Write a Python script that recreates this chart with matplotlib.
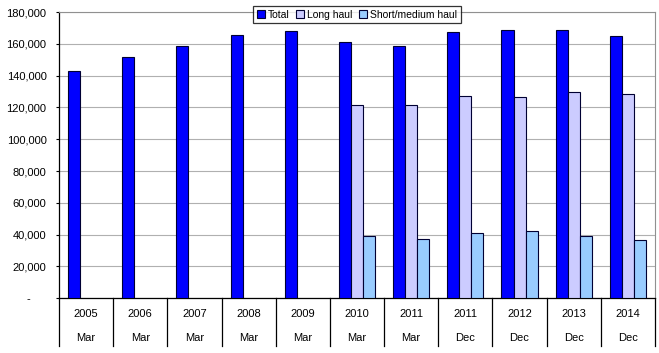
import matplotlib
matplotlib.use("Agg")
import matplotlib.pyplot as plt
import numpy as np
from matplotlib.patches import Patch
from matplotlib.ticker import FuncFormatter, MultipleLocator

plt.rcParams['font.family'] = ['Liberation Sans', 'DejaVu Sans']

years = ["2005", "2006", "2007", "2008", "2009", "2010", "2011", "2011", "2012", "2013", "2014"]
months = ["Mar", "Mar", "Mar", "Mar", "Mar", "Mar", "Mar", "Dec", "Dec", "Dec", "Dec"]
total = [142900, 151700, 158600, 165700, 168000, 161000, 158600, 167400, 168700, 168700, 164900]
long_haul = [np.nan, np.nan, np.nan, np.nan, np.nan, 121300, 121300, 127000, 126400, 129700, 128200]
short_haul = [np.nan, np.nan, np.nan, np.nan, np.nan, 39000, 37100, 41000, 42100, 39000, 36500]

series = [("Total", total, "#0000FF"),
          ("Long haul", long_haul, "#CCCCFF"),
          ("Short/medium haul", short_haul, "#99CCFF")]

fig = plt.figure(figsize=(6.59, 3.53), dpi=100)
ax = fig.add_axes([59/659, 1-298.3/353, 596/659, 286.3/353])

n = len(years)
x = np.arange(n)
bw = 1/4.5
for i, (name, vals, col) in enumerate(series):
    ax.bar(x - 0.5 + 0.75*bw + (i + 0.5)*bw, vals, width=bw, color=col,
           edgecolor="#000033", linewidth=0.8, zorder=3)

ax.set_xlim(-0.5, n - 0.5)
ax.set_ylim(0, 180000)
ax.yaxis.set_major_locator(MultipleLocator(20000))
ax.yaxis.set_major_formatter(FuncFormatter(lambda v, p: "-     " if v == 0 else f"{int(v):,}"))
ax.tick_params(axis='y', labelsize=8, length=2.5, width=0.8, pad=6.5, colors='black')
ax.set_xticks([])
ax.grid(axis='y', color='#B0B0B0', linewidth=0.8, zorder=0)
for s in ['top', 'right']:
    ax.spines[s].set_color('#909090')
    ax.spines[s].set_linewidth(0.8)
for s in ['left', 'bottom']:
    ax.spines[s].set_color('black')
    ax.spines[s].set_linewidth(0.9)

trans = ax.get_xaxis_transform()
ph = 286.3
for i in range(n):
    ax.text(i, -(314-298.3)/ph, years[i], transform=trans, ha='center', va='center', fontsize=8)
    ax.text(i, -(338-298.3)/ph, months[i], transform=trans, ha='center', va='center', fontsize=8)
for b in np.arange(n + 1) - 0.5:
    ax.plot([b, b], [0, -(346-298.3)/ph], transform=trans, color='black', linewidth=0.9, clip_on=False)

handles = [Patch(facecolor=c, edgecolor='#000033', linewidth=0.8, label=nm) for nm, _, c in series]
leg = ax.legend(handles=handles, ncol=3, loc='center', bbox_to_anchor=(0.5, 1 - (14.5-12)/ph),
                fontsize=7.5, frameon=True, fancybox=False, handlelength=0.8, handleheight=0.8,
                handletextpad=0.3, columnspacing=0.6, borderpad=0.35, borderaxespad=0)
leg.get_frame().set_edgecolor('black')
leg.get_frame().set_linewidth(0.9)
leg.set_zorder(5)

fig.savefig("out.png", dpi=100)
